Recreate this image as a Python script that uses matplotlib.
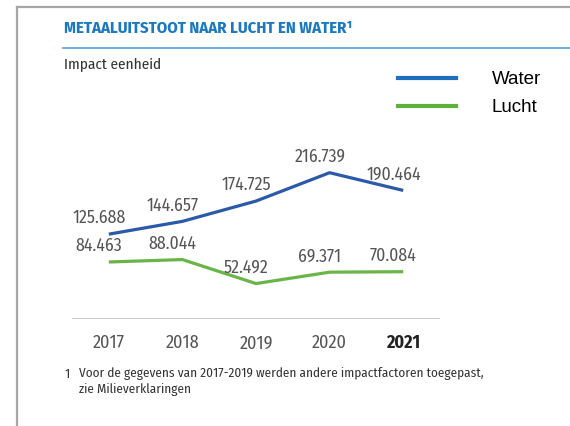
import matplotlib
matplotlib.use("Agg")
import matplotlib.pyplot as plt
from matplotlib.lines import Line2D

#data
years = [2017, 2018, 2019, 2020, 2021]
water = [125.688, 144.657, 174.725, 216.739, 190.464]
lucht = [84.463, 88.044, 52.492, 69.371, 70.084]
water_labels = ["125.688", "144.657", "174.725", "216.739", "190.464"]
lucht_labels = ["84.463", "88.044", "52.492", "69.371", "70.084"]

cond = ["Fira Sans Condensed", "DejaVu Sans"]
arial = ["Liberation Sans", "DejaVu Sans"]

fig = plt.figure(figsize=(5.7, 4.26), dpi=100)
fig.patch.set_facecolor("white")

#grey frame on the left and top
fig.add_artist(Line2D([17/570, 17/570], [0, 1 - 7/426], transform=fig.transFigure, color="#a6a6a6", lw=1.6))
fig.add_artist(Line2D([17/570, 1], [1 - 7/426, 1 - 7/426], transform=fig.transFigure, color="#a6a6a6", lw=1.6))

#title and blue rule underneath
fig.text(64/570, 1 - 28/426, "METAALUITSTOOT NAAR LUCHT EN WATER\u00b9", family=cond, fontweight="bold",
         fontsize=12, color="#1c79c0", ha="left", va="center")
fig.add_artist(Line2D([63/570, 1], [1 - 48/426, 1 - 48/426], transform=fig.transFigure, color="#5a9fd6", lw=1.2))
fig.text(64/570, 1 - 65/426, "Impact eenheid", family=cond, fontsize=11, color="#333333", ha="left", va="center")

ax = fig.add_axes([72/570, (426 - 319)/426, 368/570, 168.75/426])
ax.set_xlim(2016.5, 2021.5)
ax.set_ylim(0, 250)

ax.plot(years, water, color="#2b5ba8", lw=2.3, solid_capstyle="butt")
ax.plot(years, lucht, color="#6ab547", lw=2.3, solid_capstyle="butt")

#value labels above each point, slightly left of the point like the reference
for x, y, lab in zip(years, water, water_labels):
    ax.annotate(lab, (x, y), xytext=(-7, 11.5), textcoords="offset points", ha="center", va="center",
                family=cond, fontsize=12.7, color="#555555")
for x, y, lab in zip(years, lucht, lucht_labels):
    ax.annotate(lab, (x, y), xytext=(-7, 11.5), textcoords="offset points", ha="center", va="center",
                family=cond, fontsize=12.7, color="#555555")

ax.axhline(0, color="#c3c3c3", lw=2)
for s in ax.spines.values():
    s.set_visible(False)
ax.set_yticks([])
ax.set_xticks(years)
ax.set_xticklabels([str(y) for y in years], family=cond, fontsize=13, color="#555555")
ax.get_xticklabels()[-1].set_fontweight("bold")
ax.get_xticklabels()[-1].set_color("#222222")
ax.tick_params(axis="x", length=0, pad=11)

#legend (drawn with its own slightly brighter colours like the reference)
handles = [Line2D([], [], color="#1f6fc0", lw=3), Line2D([], [], color="#5fb03c", lw=3)]
fig.legend(handles, ["Water", "Lucht"], loc="upper left", bbox_to_anchor=(398/570, 1 - 71/426),
           frameon=False, prop={"family": arial, "size": 13.5}, handlelength=3.1, handletextpad=1.9,
           labelspacing=0.6, borderaxespad=0, borderpad=0)

#footnote
fig.text(65/570, 1 - 374/426, "1", family=cond, fontsize=9.5, color="#333333", ha="left", va="center")
fig.text(79/570, 1 - 374/426, "Voor de gegevens van 2017-2019 werden andere impactfactoren toegepast,",
         family=cond, fontsize=9.5, color="#333333", ha="left", va="center")
fig.text(79/570, 1 - 390/426, "zie Milieverklaringen", family=cond, fontsize=9.5, color="#333333",
         ha="left", va="center")

fig.savefig("out.png", dpi=100)
